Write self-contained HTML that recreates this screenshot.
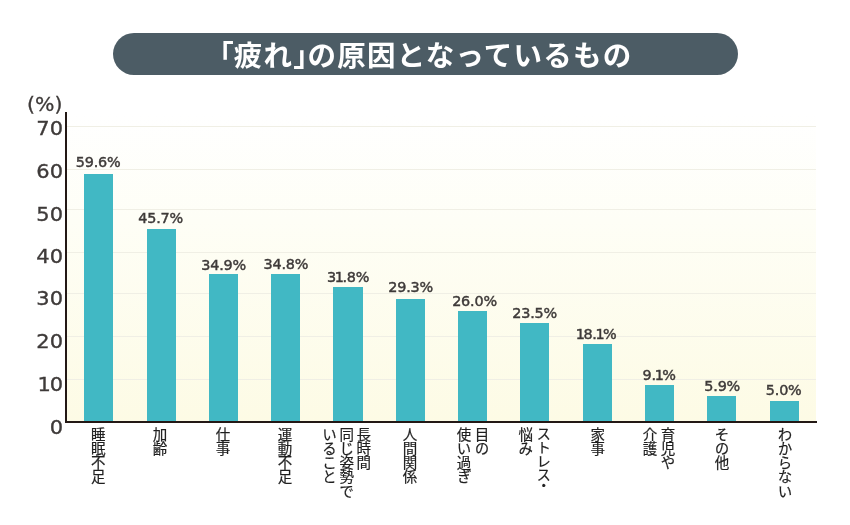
<!DOCTYPE html>
<html lang="ja"><head><meta charset="utf-8"><title>「疲れ」の原因となっているもの</title>
<style>
html,body{margin:0;padding:0;background:#fff;}
body{width:850px;height:525px;position:relative;overflow:hidden;font-family:"Liberation Sans","Noto Sans CJK JP",sans-serif;color:#3a3a3a;}
.banner{position:absolute;left:113px;top:33px;width:625px;height:42.3px;border-radius:21px;background:#4c5c65;}
.title{position:absolute;left:219.5px;top:34.6px;width:500px;height:42px;line-height:42px;text-align:left;color:#fff;font-weight:700;font-size:28.5px;letter-spacing:1.25px;white-space:nowrap;font-family:"Liberation Sans","Noto Sans CJK JP",sans-serif;}
.bk{font-feature-settings:"halt";letter-spacing:0;}
.vp{font-feature-settings:"vpal";letter-spacing:0.2px;}
.o{margin:0 -1.3px;}
.o2{margin:0 -1.2px 0 -2px;}
.plot{position:absolute;left:67px;top:113px;width:749px;height:308px;background:linear-gradient(to bottom,#ffffff 0%,#fefef6 35%,#fdfbe5 100%);}
.grid{position:absolute;left:67px;width:749px;height:1px;background:#f0efe5;}
.yaxis{z-index:3;position:absolute;left:65px;top:112px;width:2px;height:311px;background:#231815;}
.xaxis{z-index:3;position:absolute;left:65px;top:421px;width:752px;height:2px;background:#231815;}
.ylab{position:absolute;left:12.6px;width:50px;text-align:right;font-family:"DejaVu Sans","Liberation Sans",sans-serif;font-size:19.6px;line-height:20px;height:20px;color:#3e3a39;-webkit-text-stroke:0.35px #3e3a39;transform:scaleX(1.07);transform-origin:100% 50%;}
.unit{position:absolute;left:26.8px;top:95.2px;font-family:"DejaVu Sans","Liberation Sans",sans-serif;font-size:18.6px;line-height:20px;color:#3e3a39;white-space:nowrap;-webkit-text-stroke:0.3px #3e3a39;transform:scaleX(1.1);transform-origin:0 50%;}
.bar{position:absolute;background:#41b8c4;}
.val{position:absolute;width:80px;text-align:center;font-family:"DejaVu Sans","Liberation Sans",sans-serif;font-size:14.4px;line-height:16px;height:16px;letter-spacing:-0.2px;-webkit-text-stroke:0.45px #3e3a39;color:#3e3a39;white-space:nowrap;}
.xl{position:absolute;top:426.6px;writing-mode:vertical-rl;font-family:"Noto Sans CJK JP","Liberation Sans",sans-serif;font-weight:400;font-size:14.5px;letter-spacing:-0.3px;-webkit-text-stroke:0.2px #1f1f1f;line-height:17.6px;color:#1f1f1f;white-space:nowrap;}
</style></head><body>
<div class="banner"></div>
<div class="title"><span class="bk">「</span>疲れ<span class="bk">」</span>の原因となっているもの</div>
<div class="plot"></div>
<div class="grid" style="top:379.0px"></div>
<div class="grid" style="top:336.0px"></div>
<div class="grid" style="top:293.0px"></div>
<div class="grid" style="top:252.0px"></div>
<div class="grid" style="top:209.0px"></div>
<div class="grid" style="top:169.0px"></div>
<div class="grid" style="top:126.0px"></div>
<div class="yaxis"></div><div class="xaxis"></div>
<div class="unit">(%)</div>
<div class="ylab" style="top:417.6px">0</div>
<div class="ylab" style="top:374.8px"><span class="o2">1</span>0</div>
<div class="ylab" style="top:332.3px">20</div>
<div class="ylab" style="top:289.2px">30</div>
<div class="ylab" style="top:247.4px">40</div>
<div class="ylab" style="top:204.7px">50</div>
<div class="ylab" style="top:162.1px">60</div>
<div class="ylab" style="top:118.6px">70</div>
<div class="bar" style="left:84.2px;top:174.2px;width:29.2px;height:247.3px"></div>
<div class="val" style="left:58.2px;top:153.6px">59.6%</div>
<div class="xl" style="left:89.1px;width:17.6px;line-height:17.6px">睡眠不足</div>
<div class="bar" style="left:146.5px;top:229.3px;width:29.2px;height:192.2px"></div>
<div class="val" style="left:120.7px;top:210.3px">45.7%</div>
<div class="xl" style="left:151.0px;width:17.6px;line-height:17.6px">加齢</div>
<div class="bar" style="left:208.8px;top:274.0px;width:29.2px;height:147.5px"></div>
<div class="val" style="left:183.6px;top:256.7px">34.9%</div>
<div class="xl" style="left:214.0px;width:17.6px;line-height:17.6px">仕事</div>
<div class="bar" style="left:271.1px;top:274.0px;width:29.2px;height:147.5px"></div>
<div class="val" style="left:245.9px;top:256.4px">34.8%</div>
<div class="xl" style="left:275.8px;width:17.6px;line-height:17.6px">運動不足</div>
<div class="bar" style="left:333.4px;top:287.0px;width:29.2px;height:134.5px"></div>
<div class="val" style="left:308.2px;top:268.7px">3<span class="o">1</span>.8%</div>
<div class="xl" style="left:321.0px;width:51.3px;line-height:17.1px">長時間<br>同じ姿勢で<br>いること</div>
<div class="bar" style="left:395.7px;top:298.7px;width:29.2px;height:122.8px"></div>
<div class="val" style="left:370.7px;top:278.7px">29.3%</div>
<div class="xl" style="left:401.0px;width:17.6px;line-height:17.6px">人間関係</div>
<div class="bar" style="left:458.0px;top:310.7px;width:29.2px;height:110.8px"></div>
<div class="val" style="left:434.5px;top:292.9px">26.0%</div>
<div class="xl" style="left:454.4px;width:36.0px;line-height:18.0px">目の<br>使い過ぎ</div>
<div class="bar" style="left:520.3px;top:322.6px;width:29.2px;height:98.9px"></div>
<div class="val" style="left:494.6px;top:304.8px">23.5%</div>
<div class="xl" style="left:516.3px;width:36.0px;line-height:18.0px"><span class="vp">ストレス・</span><br>悩み</div>
<div class="bar" style="left:582.6px;top:343.8px;width:29.2px;height:77.7px"></div>
<div class="val" style="left:556.8px;top:325.5px"><span class="o">1</span>8.<span class="o">1</span>%</div>
<div class="xl" style="left:588.6px;width:17.6px;line-height:17.6px">家事</div>
<div class="bar" style="left:644.9px;top:385.0px;width:29.2px;height:36.5px"></div>
<div class="val" style="left:619.2px;top:367.1px">9.<span class="o">1</span>%</div>
<div class="xl" style="left:640.4px;width:36.0px;line-height:18.0px">育児や<br>介護</div>
<div class="bar" style="left:707.2px;top:396.1px;width:29.2px;height:25.4px"></div>
<div class="val" style="left:682.2px;top:377.5px">5.9%</div>
<div class="xl" style="left:712.8px;width:17.6px;line-height:17.6px">その他</div>
<div class="bar" style="left:769.5px;top:400.9px;width:29.2px;height:20.6px"></div>
<div class="val" style="left:743.7px;top:382.4px">5.0%</div>
<div class="xl" style="left:776.0px;width:17.6px;line-height:17.6px">わからない</div>
</body></html>
